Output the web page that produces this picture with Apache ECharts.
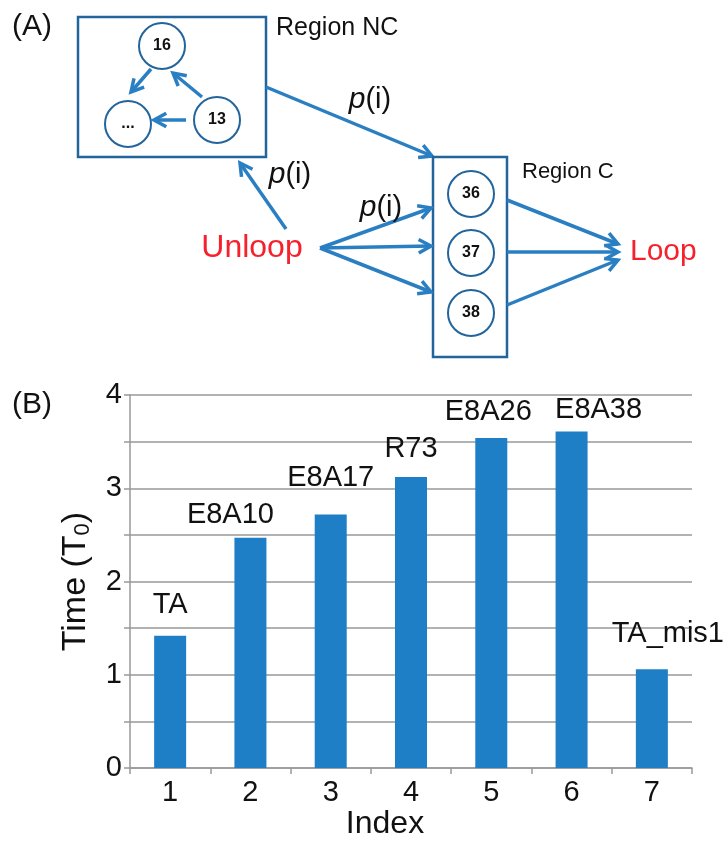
<!DOCTYPE html>
<html>
<head>
<meta charset="utf-8">
<script src="https://cdn.jsdelivr.net/npm/echarts@6/dist/echarts.min.js"></script>
<style>html,body{margin:0;padding:0;background:#fff}#c{width:723px;height:841px}</style>
</head>
<body>
<div id="c"></div>
<script>
// ---- data ----
const categories = ['1', '2', '3', '4', '5', '6', '7'];
const barNames = ['TA', 'E8A10', 'E8A17', 'R73', 'E8A26', 'E8A38', 'TA_mis1'];
const times = [1.42, 2.47, 2.72, 3.12, 3.54, 3.61, 1.06];
const yTickLabels = [0, 1, 2, 3, 4];

// ---- styling ----
const FONT = '"Liberation Sans", Arial, sans-serif';
const labelOffsets = [[0, -11], [-20, -3], [0, -17], [0, -9], [-3, -6], [27, -2], [16, -16]];
const LINE = '#2a7fc2';
const BOX = '#22649c';

function arrow(x1, y1, x2, y2) {
  const a = Math.atan2(y2 - y1, x2 - x1), L = 14, h = 0.5;
  const p1 = [x2 - L * Math.cos(a - h), y2 - L * Math.sin(a - h)];
  const p2 = [x2 - L * Math.cos(a + h), y2 - L * Math.sin(a + h)];
  return [
    { type: 'line', shape: { x1, y1, x2, y2 }, style: { stroke: LINE, lineWidth: 3.5 } },
    { type: 'polyline', shape: { points: [p1, [x2, y2], p2] }, style: { stroke: LINE, lineWidth: 3.5, fill: null, lineJoin: 'miter' } }
  ];
}
function circ(cx, cy, t) {
  return [
    { type: 'circle', shape: { cx, cy, r: 23 }, style: { stroke: BOX, lineWidth: 2, fill: '#fff' } },
    { type: 'text', x: cx, y: cy, style: { text: t, font: 'bold 16px ' + FONT, fill: '#111', align: 'center', verticalAlign: 'middle' } }
  ];
}
function txt(x, y, t, size, color, align) {
  return { type: 'text', x, y, style: { text: t, font: size + 'px ' + FONT, fill: color || '#111', align: align || 'left', verticalAlign: 'middle' } };
}
function pi(x, y) {
  return {
    type: 'text', x, y, style: {
      text: '{i|p}(i)', font: '29px ' + FONT, fill: '#111', align: 'center', verticalAlign: 'middle',
      rich: { i: { fontStyle: 'italic', fontSize: 30, fontFamily: FONT, fill: '#111' } }
    }
  };
}

let g = [];
g.push(txt(12, 27, '(A)', 30));
g.push({ type: 'rect', shape: { x: 78, y: 17, width: 188, height: 140 }, style: { stroke: BOX, lineWidth: 2.5, fill: null } });
g.push(txt(276, 28, 'Region NC', 25));
g = g.concat(arrow(151, 69, 131, 92), arrow(202, 97, 173, 73), arrow(186, 120, 154, 120));
g = g.concat(circ(162, 46, '16'), circ(128, 124, '...'), circ(217, 120, '13'));
g = g.concat(arrow(286, 229, 240, 163));
g = g.concat(arrow(266, 87, 432, 156));
g.push({ type: 'rect', shape: { x: 433, y: 157, width: 74, height: 200 }, style: { stroke: BOX, lineWidth: 2.5, fill: null } });
g.push(txt(522, 172, 'Region C', 22));
g = g.concat(circ(471, 194, '36'), circ(471, 253, '37'), circ(471, 313, '38'));
g = g.concat(arrow(320, 248, 431, 208), arrow(320, 248, 431, 246), arrow(320, 248, 431, 292));
g = g.concat(arrow(507, 200, 618, 244), arrow(507, 252, 618, 252), arrow(507, 305, 618, 260));
g.push(txt(252, 248, 'Unloop', 32, '#f5222d', 'center'));
g.push(txt(630, 252, 'Loop', 30, '#f5222d', 'left'));
g.push(pi(290, 175), pi(370, 100), pi(381, 208));
g.push(txt(12, 405, '(B)', 30));

const chart = echarts.init(document.getElementById('c'), null, { renderer: 'canvas' });
chart.setOption({
  animation: false,
  backgroundColor: '#fff',
  graphic: g,
  grid: { left: 130, right: 31, top: 395, bottom: 69, containLabel: false },
  xAxis: {
    type: 'category', data: categories,
    name: 'Index', nameLocation: 'middle', nameGap: 38,
    nameTextStyle: { fontSize: 32, fontFamily: FONT, color: '#111', padding: [0, 52, 0, 0] },
    axisLine: { lineStyle: { color: '#999', width: 1.5 } },
    axisTick: { show: true, length: 6, lineStyle: { color: '#999', width: 1.5 } },
    axisLabel: { fontSize: 29, fontFamily: FONT, color: '#111', margin: 10 }
  },
  yAxis: {
    type: 'value', min: 0, max: 4, interval: 0.5,
    name: 'Time (T{s|0})', nameLocation: 'middle', nameGap: 36,
    nameTextStyle: { fontSize: 34, fontFamily: FONT, color: '#111', rich: { s: { fontSize: 22, fontFamily: FONT, color: '#111', padding: [14, 0, 0, 0] } } },
    axisLine: { show: true, lineStyle: { color: '#999', width: 1.5 } },
    axisTick: { show: true, length: 6, lineStyle: { color: '#999', width: 1.5 } },
    splitLine: { lineStyle: { color: '#999', width: 1.5 } },
    axisLabel: {
      fontSize: 29, fontFamily: FONT, color: '#111', margin: 8,
      formatter: v => (yTickLabels.indexOf(v) >= 0 ? String(v) : '')
    }
  },
  series: [{
    type: 'bar', barWidth: 32,
    data: times.map((v, i) => ({
      value: v,
      label: { offset: labelOffsets[i] }
    })),
    itemStyle: { color: '#1f7fc6' },
    label: {
      show: true, position: 'top', distance: 5,
      fontSize: 29, fontFamily: FONT, color: '#111',
      formatter: p => barNames[p.dataIndex]
    }
  }]
});
</script>
</body>
</html>
